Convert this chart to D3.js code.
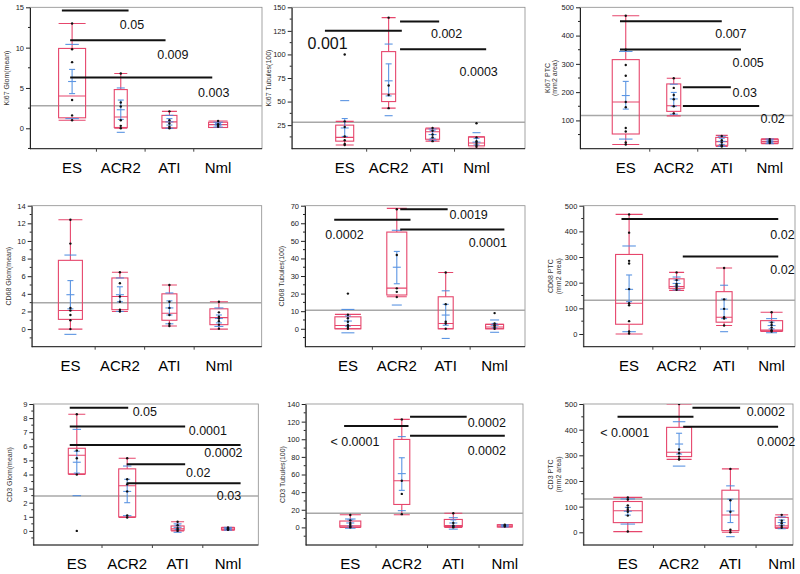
<!DOCTYPE html>
<html><head><meta charset="utf-8">
<script src="https://cdn.jsdelivr.net/npm/d3@7"></script>
<style>body{margin:0;background:#fff}svg{display:block}</style>
</head><body>
<svg id="chart" width="800" height="574"></svg>
<script>
const groups = ["ES", "ACR2", "ATI", "Nml"];

// box = [min, q1, median, q3, max]; means = [mean, ciLo, ciHi, sdLo, sdHi]
// ---- Ki67 Glom(mean)
const ki67GlomBox = [[1.0,1.3,4.0,9.9,13.0],[0,0.1,1.4,4.8,6.8],[0,0.05,0.8,1.6,2.1],[0.1,0.1,0.45,0.75,0.9]];
const ki67GlomMeans = [[5.8,4.3,7.3,1.2,10.4],[2.3,1.1,3.5,-0.5,5.0],[0.8,0.4,1.2,0.0,1.6],[0.45,0.3,0.6,0.15,0.75]];
const ki67GlomPoints = [[13,9.8,8.2,3.5,1.6,1.0],[6.8,3.2,2.7,1.0,0.3,0.0],[2.1,1.0,0.6,0.2,0.0],[0.9,0.5,0.4,0.2]];
const ki67GlomRef = 2.8;
const ki67GlomTicks = [0,5,10,15];
const ki67GlomPvals = [["0.05",14.6],["0.009",10.9],["0.003",6.3]];

// ---- Ki67 Tubules(100)
const ki67TubBox = [[4,8,12,25,29],[43,50,58,103,139],[8,10,18,21,22],[0.5,3,6,12.5,12.5]];
const ki67TubMeans = [[22,13,32,-7,51],[72,56,90,35,111],[15,11,19,9,21],[7,4,11,-3,17]];
const ki67TubPoints = [[100,29,23,13,9,5,4],[139,67,57,43],[22,19,15,12,8],[27,12,8,6,4,2]];
const ki67TubRef = 28;
const ki67TubTicks = [25,50,75,100,125,150];
const ki67TubPvals = [["0.001",125],["0.002",135],["0.0003",105.5]];

// ---- Ki67 PTC
const ki67PtcBox = [[15,52,165,315,470],[116,132,152,229,249],[8,12,25,40,47],[18,20,26,33,35]];
const ki67PtcMeans = [[188,140,238,34,344],[176,150,199,122,228],[26,15,37,8,44],[26,22,30,18,34]];
const ki67PtcPoints = [[470,350,296,258,165,147,73,61,22,15],[249,215,190,175,150,125],[45,30,22,12,8],[34,28,25,20]];
const ki67PtcRef = 117;
const ki67PtcTicks = [100,200,300,400,500];
const ki67PtcPvals = [["0.007",451],["0.005",351],["0.03",217],["0.02",150.7]];

// ---- CD68 Glom(mean)
const cd68GlomBox = [[0,1.1,2.1,7.8,12.4],[2.0,2.2,3.7,5.8,6.45],[0.35,1.0,1.8,4.0,5.0],[0,0.5,1.3,2.3,3.1]];
const cd68GlomMeans = [[3.9,2.3,5.5,-0.6,8.4],[3.9,3.1,4.8,2.0,5.8],[2.4,1.6,3.2,0.6,4.1],[1.2,0.7,1.6,0.3,2.4]];
const cd68GlomPoints = [[12.4,9.7,2.4,2.1,1.6,1.0,0.0],[6.45,5.2,3.7,3.1,2.2,2.0],[5.0,3.1,2.4,1.6,0.6,0.35],[3.1,1.9,1.4,1.2,0.9,0.5,0.05]];
const cd68GlomRef = 3.0;
const cd68GlomTicks = [0,2,4,6,8,10,12,14];
const cd68GlomPvals = [];

// ---- CD68 Tubules(100)
const cd68TubBox = [[0,0,1.9,6.8,8.2],[18.2,19.2,23.1,55,68.5],[0,0,3,18.2,32],[0,0,1,2.5,2.5]];
const cd68TubMeans = [[4.4,1.5,7.3,-2.3,11],[35,25.6,44,13.5,56],[7.8,2,13.9,-5.5,21.6],[2,0.5,3,-2,5]];
const cd68TubPoints = [[20,8,6,4,2,1,0],[68,42,23,21,18],[32,14,4,3,0],[8.9,3,2,1,0]];
const cd68TubRef = 10.6;
const cd68TubTicks = [0,10,20,30,40,50,60,70];
const cd68TubPvals = [["0.0002",62],["0.0019",68],["0.0001",56.5]];

// ---- CD68 PTC
const cd68PtcBox = [[0,38,120,310,466],[170,178,185,215,240],[33,46,65,165,257],[10,12,15,52,85]];
const cd68PtcMeans = [[174,126,230,9,343],[197,186,210,172,222],[97,60,136,9,190],[33,20,46,5,60]];
const cd68PtcPoints = [[466,395,285,275,175,120,112,50,10,2],[240,210,195,188,180,172],[257,135,98,65,60,33],[85,45,35,25,15,10]];
const cd68PtcRef = 132;
const cd68PtcTicks = [0,100,200,300,400,500];
const cd68PtcPvals = [["0.02",448],["0.02",302]];

// ---- CD3 Glom(mean)
const cd3GlomBox = [[4.0,4.05,5.37,5.86,8.27],[0.95,1.0,3.2,4.4,5.15],[0,0.05,0.15,0.35,0.65],[0.05,0.08,0.13,0.23,0.25]];
const cd3GlomMeans = [[4.87,4.1,5.65,2.5,7.2],[2.8,2.0,3.66,1.08,4.6],[0.25,0.1,0.4,-0.1,0.5],[0.15,0.1,0.2,0.05,0.25]];
const cd3GlomPoints = [[8.27,5.7,5.15,4.0,0.0],[5.15,3.66,3.3,2.8,1.1,0.95],[0.65,0.4,0.2,0.1,0.0],[0.25,0.18,0.12,0.08]];
const cd3GlomRef = 2.48;
const cd3GlomTicks = [0,1,2,3,4,5,6,7,8,9];
const cd3GlomPvals = [["0.05",8.74],["0.0001",7.4],["0.0002",6.1],["0.02",4.72],["0.03",3.38]];

// ---- CD3 Tubules(100)
const cd3TubBox = [[0,0.5,1.9,7.2,14.4],[14.4,26,52.9,99.8,122.5],[0,1,2,9,16],[0.5,0.5,1.5,3,3]];
const cd3TubMeans = [[5,1.5,8.5,-1,9.5],[61,42,79,19,103],[5,1.5,8.5,-2,11],[1.8,1,2.5,0.5,3]];
const cd3TubPoints = [[14,8,5,3,1,0],[122.5,52.9,38,15],[16,5,2,1,0],[3,2,1]];
const cd3TubRef = 15.9;
const cd3TubTicks = [0,20,40,60,80,100,120,140];
const cd3TubPvals = [["< 0.0001",115],["0.0002",125.5],["0.0002",104]];

// ---- CD3 PTC
const cd3PtcBox = [[2.6,37.7,84,120,136],[284,295,312,409,500],[0,6.5,67.5,164,247],[15,18,25,58,68]];
const cd3PtcMeans = [[82,67,97,32,130],[344,305,386,258,431],[83,38,129,-17,181],[38,28,48,14,60]];
const cd3PtcPoints = [[136,128,105,96,88,80,65,3],[500,323,308,295,285,284],[247,125,80,10,0],[68,45,35,25,18]];
const cd3PtcRef = 130;
const cd3PtcTicks = [0,100,200,300,400,500];
const cd3PtcPvals = [["< 0.0001",450.6],["0.0002",485],["0.0002",411.7]];

// ================= layout =================
// rect: [left, top, right, bottom]; xr: scale range for first/last group;
// pl: per p-value [lineStartIdx, lineEndIdx, textIdx, textValue] in (group index, value) space
const panels = [
 {title:["Ki67 Glom(mean)"], box:ki67GlomBox, means:ki67GlomMeans, points:ki67GlomPoints, ref:ki67GlomRef, ticks:ki67GlomTicks, pvals:ki67GlomPvals,
  domain:[-2.53,15], rect:[30,7.3,262,148.7], xr:[72.1,218.1], widths:[27,13,15,19],
  pl:[[-0.21,1.16,1.23,12.3],[-0.04,1.92,2.07,8.6],[-0.04,2.88,2.91,3.9]], pf:[]},
 {title:["Ki67 Tubules(100)"], box:ki67TubBox, means:ki67TubMeans, points:ki67TubPoints, ref:ki67TubRef, ticks:ki67TubTicks, pvals:ki67TubPvals,
  domain:[0,150], rect:[291.7,7.3,525,148.7], xr:[344.7,476.5], widths:[18,14,14,16],
  pl:[[-0.45,1.30,-0.39,105.8],[1.26,2.15,2.32,117.4],[1.26,3.22,3.05,77.1]], pf:[16]},
 {title:["Ki67 PTC","(mm2 area)"], box:ki67PtcBox, means:ki67PtcMeans, points:ki67PtcPoints, ref:ki67PtcRef, ticks:ki67PtcTicks, pvals:ki67PtcPvals,
  domain:[0,500], rect:[580,7.3,793,148.7], xr:[625.75,769.75], widths:[27,14,12,17],
  pl:[[-0.12,2.0,2.19,390.8],[-0.12,2.4,2.55,289.4],[1.19,2.19,2.48,183.5],[1.19,2.78,3.06,89.7]], pf:[]},
 {title:["CD68 Glom(mean)"], box:cd68GlomBox, means:cd68GlomMeans, points:cd68GlomPoints, ref:cd68GlomRef, ticks:cd68GlomTicks, pvals:cd68GlomPvals,
  domain:[-2,14], rect:[31.7,205.7,261.7,346.7], xr:[70.4,218.9], widths:[24,16,15,18], pl:[], pf:[]},
 {title:["CD68 Tubules(100)"], box:cd68TubBox, means:cd68TubMeans, points:cd68TubPoints, ref:cd68TubRef, ticks:cd68TubTicks, pvals:cd68TubPvals,
  domain:[-10.2,70], rect:[305,205.7,525,346.7], xr:[347.9,494.6], widths:[26,20,15,18],
  pl:[[-0.28,1.28,-0.07,50.9],[1.07,2.04,2.47,62.3],[1.07,3.2,2.86,46.3]], pf:[]},
 {title:["CD68 PTC","(mm2 area)"], box:cd68PtcBox, means:cd68PtcMeans, points:cd68PtcPoints, ref:cd68PtcRef, ticks:cd68PtcTicks, pvals:cd68PtcPvals,
  domain:[-49.5,500], rect:[583.3,205.7,795,346.7], xr:[629.1,771.6], widths:[27,15,16,22],
  pl:[[-0.16,3.14,3.23,370],[1.13,3.14,3.23,233.7]], pf:[]},
 {title:["CD3 Glom(mean)"], box:cd3GlomBox, means:cd3GlomMeans, points:cd3GlomPoints, ref:cd3GlomRef, ticks:cd3GlomTicks, pvals:cd3GlomPvals,
  domain:[-1,9], rect:[33.3,404,258.3,545], xr:[76.8,228], widths:[17,17,13,13],
  pl:[[-0.14,1.02,1.35,8.16],[-0.14,2.15,2.6,6.81],[-0.14,3.25,2.91,5.23],[0.99,2.15,2.41,3.85],[0.99,3.25,3.02,2.2]], pf:[]},
 {title:["CD3 Tubules(100)"], box:cd3TubBox, means:cd3TubMeans, points:cd3TubPoints, ref:cd3TubRef, ticks:cd3TubTicks, pvals:cd3TubPvals,
  domain:[-20,140], rect:[305.7,404,523,545], xr:[350.3,504.8], widths:[21,16,18,15],
  pl:[[-0.12,1.13,0.09,92.2],[1.16,2.26,2.65,114.1],[1.16,3.0,2.65,82]], pf:[]},
 {title:["CD3 PTC","(mm2 area)"], box:cd3PtcBox, means:cd3PtcMeans, points:cd3PtcPoints, ref:cd3PtcRef, ticks:cd3PtcTicks, pvals:cd3PtcPvals,
  domain:[-49.5,500], rect:[583.3,404,793,545], xr:[627.8,781.7], widths:[29,25,17,13],
  pl:[[-0.2,1.28,-0.06,372.4],[1.26,2.19,2.69,453],[1.08,2.93,2.89,336.2]], pf:[]}
];

const FONT = '"Liberation Sans", Arial, Helvetica, sans-serif';
const RED = "#e6466c", BLUE = "#4a8ae0";
const svg = d3.select("#chart");

panels.forEach((p, pi) => {
  const [L, T, R, B] = p.rect;
  const g = svg.append("g");
  const y = d3.scaleLinear().domain(p.domain).range([B, T]);
  const x = d3.scalePoint().domain(groups).range(p.xr);
  const xi = d3.scaleLinear().domain([0, 3]).range(p.xr);

  const cid = "clip" + pi;
  svg.append("clipPath").attr("id", cid).append("rect")
    .attr("x", L).attr("y", T).attr("width", R - L).attr("height", B - T);

  // frame
  g.append("rect").attr("x", L).attr("y", T).attr("width", R - L).attr("height", B - T)
    .attr("fill", "none").attr("stroke", "#8c8c8c").attr("stroke-width", 0.8);

  const plot = g.append("g").attr("clip-path", `url(#${cid})`);

  // reference (grand mean) line
  plot.append("line").attr("x1", L).attr("x2", R).attr("y1", y(p.ref)).attr("y2", y(p.ref))
    .attr("stroke", "#a8a8a8").attr("stroke-width", 1.5);

  groups.forEach((gr, i) => {
    const cx = x(gr), w = p.widths[i];
    const [mn, q1, md, q3, mx] = p.box[i];
    const [mean, ciLo, ciHi, sdLo, sdHi] = p.means[i];
    const red = plot.append("g").attr("stroke", RED).attr("fill", "none").attr("stroke-width", 1.1);
    red.append("line").attr("x1", cx).attr("x2", cx).attr("y1", y(mx)).attr("y2", y(q3));
    red.append("line").attr("x1", cx).attr("x2", cx).attr("y1", y(q1)).attr("y2", y(mn));
    red.append("line").attr("x1", cx - w / 2).attr("x2", cx + w / 2).attr("y1", y(mx)).attr("y2", y(mx));
    red.append("line").attr("x1", cx - w / 2).attr("x2", cx + w / 2).attr("y1", y(mn)).attr("y2", y(mn));
    red.append("rect").attr("x", cx - w / 2).attr("width", w).attr("y", y(q3)).attr("height", Math.max(0.5, y(q1) - y(q3)));
    red.append("line").attr("x1", cx - w / 2).attr("x2", cx + w / 2).attr("y1", y(md)).attr("y2", y(md));

    const blue = plot.append("g").attr("stroke", BLUE).attr("stroke-width", 1.1).attr("opacity", 0.9);
    const sw = Math.max(8, w * 0.5);
    blue.append("line").attr("x1", cx).attr("x2", cx).attr("y1", y(ciLo)).attr("y2", y(ciHi));
    [ciLo, ciHi].forEach(v => blue.append("line").attr("x1", cx - 3).attr("x2", cx + 3).attr("y1", y(v)).attr("y2", y(v)));
    blue.append("line").attr("x1", cx - 4).attr("x2", cx + 4).attr("y1", y(mean)).attr("y2", y(mean));
    [sdLo, sdHi].forEach(v => blue.append("line").attr("x1", cx - sw / 2).attr("x2", cx + sw / 2).attr("y1", y(v)).attr("y2", y(v)));

    plot.append("g").selectAll("circle").data(p.points[i]).join("circle")
      .attr("cx", cx).attr("cy", d => y(d)).attr("r", 1.2).attr("fill", "#111");

    // category label
    g.append("text").attr("x", cx).attr("y", B + 24).attr("text-anchor", "middle")
      .attr("font-family", FONT).attr("font-size", 15).attr("fill", "#000").text(gr);
  });

  // axes
  const ax = g.append("g").attr("transform", `translate(${L},0)`)
    .call(d3.axisLeft(y).tickValues(p.ticks).tickSize(4).tickSizeOuter(0).tickPadding(2));
  ax.selectAll("text").attr("font-family", FONT).attr("font-size", 7.5).attr("fill", "#222");
  ax.select(".domain").attr("stroke", "#222");
  ax.selectAll(".tick line").attr("stroke", "#222");
  // minor ticks
  const step = p.ticks[1] - p.ticks[0];
  const minors = d3.range(p.ticks[0] - step / 2, p.ticks[p.ticks.length - 1], step)
    .filter(v => v > p.domain[0] && v < p.domain[1]);
  g.append("g").selectAll("line").data(minors).join("line")
    .attr("x1", L - 2).attr("x2", L).attr("y1", d => y(d)).attr("y2", d => y(d)).attr("stroke", "#222");
  g.append("line").attr("x1", L).attr("x2", R).attr("y1", B).attr("y2", B).attr("stroke", "#222").attr("stroke-width", 1);
  // category separator ticks on bottom axis
  const mids = d3.range(3).map(k => (xi(k) + xi(k + 1)) / 2);
  g.append("g").selectAll("line").data(mids).join("line")
    .attr("x1", d => d).attr("x2", d => d).attr("y1", B).attr("y2", B + 3).attr("stroke", "#444");

  // y label
  const tl = g.append("text").attr("font-family", FONT).attr("font-size", 7).attr("fill", "#333")
    .attr("text-anchor", "middle")
    .attr("transform", `translate(${L - (p.title.length > 1 ? 30 : 21)},${(T + B) / 2}) rotate(-90)`);
  p.title.forEach((t, k) => tl.append("tspan").attr("x", 0).attr("dy", k === 0 ? 0 : "1.05em").text(t));

  // p-value annotations
  p.pvals.forEach(([label, v], k) => {
    const [a, b, tx, tv] = p.pl[k];
    g.append("line").attr("x1", xi(a)).attr("x2", xi(b)).attr("y1", y(v)).attr("y2", y(v))
      .attr("stroke", "#111").attr("stroke-width", 2);
    g.append("text").attr("x", xi(tx)).attr("y", y(tv)).attr("text-anchor", "middle")
      .attr("font-family", FONT).attr("font-size", p.pf[k] || 12.5).attr("fill", "#111").text(label);
  });
});
</script>
</body></html>
